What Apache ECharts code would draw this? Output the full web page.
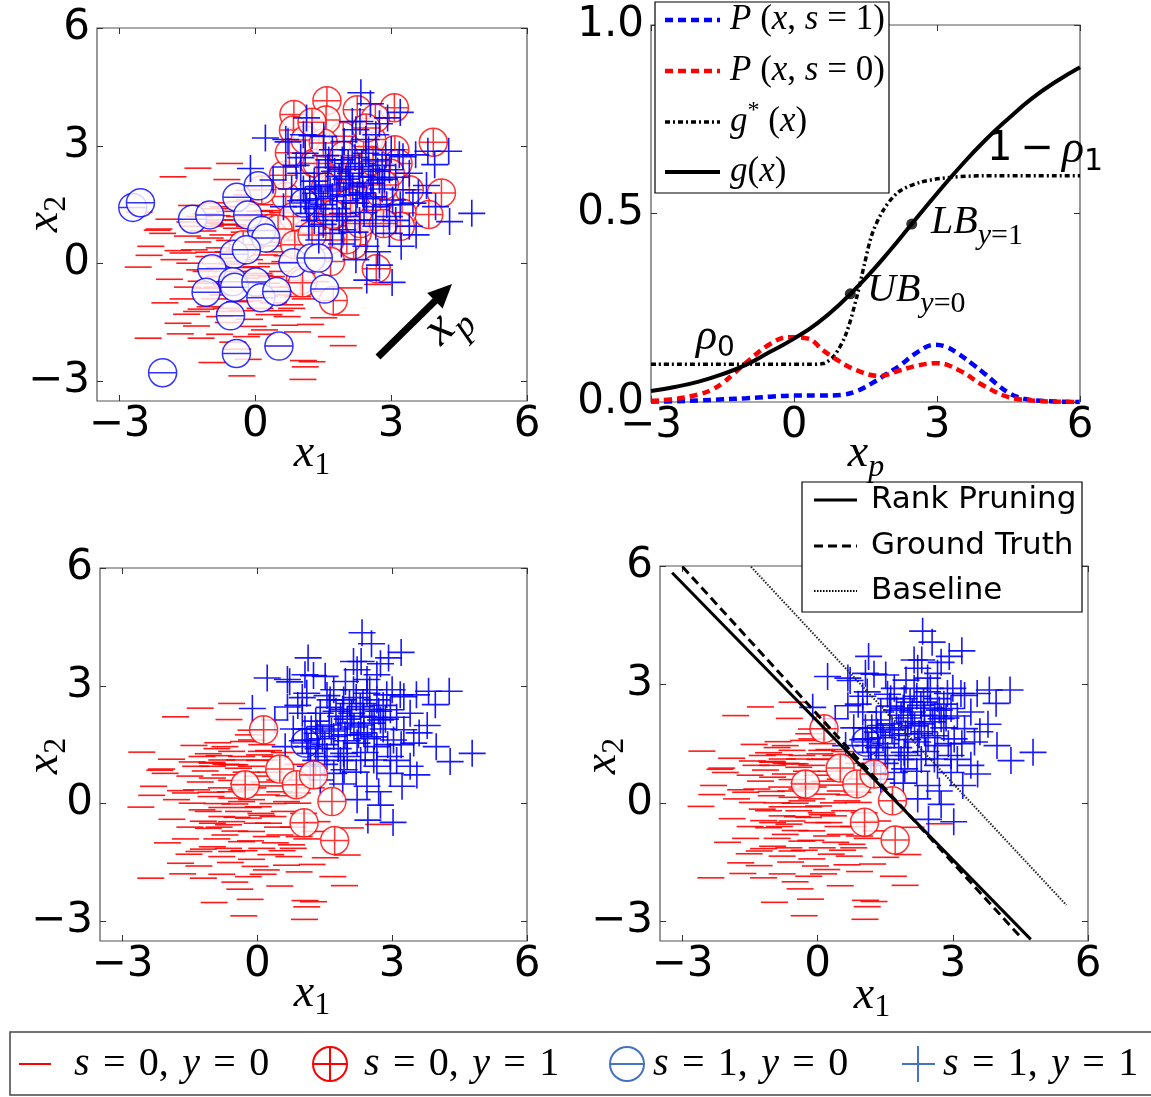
<!DOCTYPE html>
<html><head><meta charset="utf-8">
<script src="https://cdn.jsdelivr.net/npm/echarts@6/dist/echarts.min.js"></script>
<style>html,body{margin:0;padding:0;background:#fff}#c{width:1151px;height:1097px}</style>
</head><body><div id="c"></div>
<script>
// ---------------- DATA ----------------
const scatterTicks = [-3, 0, 3, 6];
// s=0, y=0 (red minus)
const negClean = [[-1.27,2.43],[-0.57,2.55],[-1.82,2.21],[-0.63,2.14],[-0.14,1.87],[-0.2,1.75],[-0.88,1.55],[-1.41,1.48],[-0.31,1.58],[-2.57,1.31],[-1.09,1.27],[-0.85,1.22],[-1.91,1.13],[-1.45,1.06],[-1.0,1.03],[-0.4,1.11],[0.05,1.24],[-2.13,0.88],[-1.0,0.95],[-0.57,0.99],[-0.13,0.95],[0.1,1.5],
[-2.59,-0.09],[-2.17,0.85],[-2.05,0.77],[-2.31,0.44],[-1.27,0.55],[-1.71,0.33],[-2.35,0.21],[-1.6,0.27],[-1.03,0.29],[-1.45,0.01],[-1.23,-0.16],[-0.79,-0.1],[-0.57,0.14],[0.02,-0.08],[-0.42,-0.2],[-0.79,-0.33],[-0.2,-0.37],[-1.09,-0.63],[-0.64,-0.54],[-0.13,-0.71],[0.25,-0.5],[-0.35,-0.97],[-1.2,-1.16],[-0.64,-1.14],[0.1,-1.14],[-1.52,-1.29],[-0.13,-1.42],[0.76,-1.05],[-1.71,-1.52],[-1.3,-1.59],[-0.6,-1.5],[0.65,-1.57],[-1.66,-1.79],[-0.79,-1.8],[-0.2,-1.86],[0.13,-1.8],[0.93,-1.74],[-2.37,-1.9],[-0.39,-2.18],[-0.96,-2.52],[-0.16,-2.44],[-0.3,-2.86],[1.06,-2.47],[1.1,-2.63],[1.05,-2.95],
[2.7,-0.53],[2.07,-0.62],[2.0,-1.31],[1.51,-1.38],[1.22,-1.55],[1.68,-1.86],[1.94,-2.09],[1.25,-2.5],[1.33,-0.46],
[-1.02,1.05],[-0.5,0.99],[0.05,1.1],[-1.16,0.83],[-0.72,0.73],[-1.0,0.65],[-0.57,0.59],[-1.03,0.18],[-0.35,0.35],[-0.13,0.1],[0.2,0.22],[0.35,0.0],[-0.5,-0.01],[-1.09,-0.2],[0.08,-0.25],[0.35,-0.33],[-0.57,-0.46],[-1.0,-0.5],[0.5,-0.8],[0.2,-0.84],[-0.72,-0.8],[-1.3,-1.22],[-0.79,-1.35],[-0.57,-1.22],[0.7,-1.35],[0.2,-1.69],
[-0.13,1.62],[-0.72,1.45],[-0.57,1.33],[-1.23,1.2],[-0.35,1.2],[0.09,1.33],[-0.79,1.11],[-1.37,0.95],[-0.42,0.9],[0.17,1.11],
[0.89,0.27],[0.9,0.01],[1.03,-0.25],[1.29,-0.71],[0.93,-0.84],[0.8,-1.14],
[0.6,1.3],[0.9,1.0],[1.2,0.4],[0.5,0.6],[0.7,0.2],[1.0,0.6],[0.4,1.2],[0.3,0.8],
[-0.3,0.5],[0.0,0.7],[-0.8,0.4],[-0.2,-0.1],[0.5,0.3],[0.6,-0.2],[-0.5,-0.7],[0.0,-0.5],[0.4,-1.0],[-0.9,-0.9],[-0.3,-1.2],[0.3,-1.3],[-1.5,0.7],[-1.8,0.1],[-1.9,-0.4],[-1.5,-0.6],[-2.0,-1.0],[-1.2,-1.9],[-0.5,-2.0],[0.5,-2.1],[0.8,-0.6],[1.1,-0.9],[-0.9,0.0],[-0.1,0.4],[0.3,0.45],
[-0.6,0.3],[-0.25,0.8],[0.15,0.55],[-0.45,-0.35],[0.1,-0.3],[-0.85,-0.6],[0.45,-0.6],[-0.15,-0.95],[-0.7,1.0],[-1.35,0.35],[-1.2,-0.45],[0.65,0.05],[-0.35,0.05],[0.25,1.35],[-1.6,-0.9],[-0.9,1.4],[0.55,-1.2],[-0.05,-1.6],[-1.0,-1.1]];
// s=1, y=1 (blue plus)
const posClean = [[1.13,3.71],[0.22,3.2],[0.67,3.16],[-0.11,2.42],[0.72,3.1],[1.06,3.28],[0.67,2.46],[0.39,2.13],[1.0,2.7],[1.06,1.9],[1.0,1.6],[0.62,1.45],[1.13,1.45],
[2.33,4.35],[2.54,4.07],[3.2,3.85],[2.92,3.71],[2.14,3.62],[2.31,3.62],[2.74,3.56],[1.25,3.26],[1.51,3.24],[1.96,3.11],[2.44,3.16],[2.66,3.28],[2.22,3.41],[3.81,2.86],[4.27,2.86],[3.54,2.77],[3.96,2.52],[3.18,2.77],[3.26,2.72],[2.88,2.77],[3.78,1.99],[3.98,1.45],[4.78,1.28],[4.29,1.07],[3.48,1.54],[3.26,1.88],[2.96,2.39],[2.66,2.64],[2.29,2.47],[1.85,2.22],[1.4,2.3],[1.1,2.81],[1.62,2.64],[2.44,2.81],[2.74,2.13],[2.37,1.8],[2.07,2.05],[1.7,1.71],[1.33,1.79],[1.1,1.62],[3.03,1.62],[2.66,1.45],[2.96,1.2],[2.59,1.11],[1.92,1.28],[1.55,1.2],[1.18,1.28],[2.22,1.54],[1.4,1.96],[1.92,2.64],[2.14,2.9],[2.37,2.22],
[3.55,0.73],[3.22,0.44],[2.22,0.1],[2.74,-0.04],[2.46,-0.42],[3.02,-0.48],[1.7,0.77],[2.44,0.44],[2.96,0.77],[1.93,0.86],[1.18,0.95],[2.66,0.95],[3.4,0.95],
[1.5,1.5],[1.8,1.9],[2.0,1.6],[2.3,2.0],[2.5,2.4],[2.8,1.9],[3.1,2.2],[1.6,2.0],[1.9,2.4],[2.2,2.7],[2.6,1.7],[2.9,1.5],[1.3,2.1],[1.7,2.9],[2.0,1.2],[2.4,1.3],[2.8,2.5],[3.0,2.9],[1.5,1.0],[1.9,0.5],[2.2,0.8],[2.7,0.3],[1.4,0.6],[1.3,1.1],[2.1,2.3],[2.5,2.9],[1.8,1.4],[2.6,2.2],[3.1,1.1],[3.4,2.3],[3.6,1.8],[1.0,2.3],[0.8,1.9],[0.9,2.5],
[1.65,1.85],[1.95,1.75],[2.15,1.95],[2.45,1.65],[1.75,2.35],[2.05,2.55],[2.35,2.55],[2.7,2.35],[1.45,1.65],[1.2,1.9],[2.85,2.15],[1.6,2.45],[2.0,2.15],[1.85,1.1],[2.3,1.1],[1.35,1.4],[2.55,2.05],[2.25,1.75],[1.55,2.75],[3.2,1.5]];
// s=0, y=1 (red circle-plus): kept after pruning / removed by pruning
const flipPosKept = [[0.14,1.88],[-0.27,0.48],[0.5,0.88],[0.87,0.48],[1.25,0.73],[1.66,0.05],[1.04,-0.49],[1.72,-0.94]];
const flipPosRemoved = [[1.58,4.15],[0.85,3.8],[0.84,3.4],[2.25,3.92],[3.07,3.97],[3.93,3.09],[4.11,1.8],[2.67,-0.13],[3.83,1.25],[3.08,2.9],[3.15,2.55],[3.4,1.88],[3.24,1.29],[3.2,0.95],[2.25,0.78],[2.17,0.48],[1.7,0.78],[1.15,0.78],[0.36,0.9],[0.67,1.71],[0.62,2.25],[0.75,2.82],[1.1,3.15],[1.94,3.24],[2.1,1.97],[2.73,1.63],[2.57,3.16],[1.78,2.14],[1.3,2.56],[1.23,1.29],[1.86,1.37],[2.49,1.2],[2.02,0.61],[1.56,3.66],[2.65,3.7],[1.87,2.13],[1.36,2.55],[1.5,3.07],[2.39,2.98],[2.46,1.36],[2.76,1.79],[2.98,2.3],[2.32,1.02],[2.83,1.02],[0.99,-0.43],[1.21,1.45],[0.84,1.2],[1.65,0.6],
[1.95,2.75],[2.3,2.4],[2.6,2.6],[1.55,1.95],[2.1,1.55],[1.7,1.25],[2.85,2.0],[2.45,3.45],[1.25,3.6]];
// s=1, y=0 (blue circle-minus)
const flipNegKept = [[1.07,1.54]];
const flipNegRemoved = [[-2.71,1.43],[-2.54,1.55],[-1.39,1.13],[-1.01,1.24],[-0.41,1.69],[0.06,1.98],[-0.17,1.24],[0.14,0.84],[0.23,0.65],[-0.47,0.24],[-0.2,0.35],[-0.96,-0.13],[-1.09,-0.73],[-0.5,-0.46],[-0.46,-0.6],[0.01,-0.47],[0.12,-0.87],[0.47,-0.71],[-0.55,-1.33],[-0.42,-2.29],[0.52,-2.1],[-2.05,-2.78],[0.83,0.02],[1.23,0.14],[1.39,0.14],[1.53,-0.65]];
// top-right curves
const pS1 = [[-3,0.001],[-2.5,0.002],[-2,0.004],[-1.5,0.007],[-1,0.01],[-0.5,0.014],[0,0.017],[0.5,0.017],[1.0,0.019],[1.3,0.028],[1.64,0.05],[1.95,0.075],[2.2,0.095],[2.6,0.133],[2.95,0.152],[3.2,0.146],[3.45,0.128],[3.75,0.1],[4.0,0.075],[4.25,0.048],[4.47,0.027],[4.7,0.013],[4.94,0.006],[5.5,0.001],[6,0.0]];
const pS0 = [[-3,0.003],[-2.5,0.008],[-2,0.02],[-1.75,0.031],[-1.5,0.05],[-1.25,0.077],[-1,0.105],[-0.5,0.154],[-0.1,0.172],[0.3,0.168],[0.6,0.138],[0.9,0.112],[1.3,0.085],[1.8,0.069],[2.2,0.083],[2.6,0.097],[3.0,0.103],[3.45,0.085],[4.0,0.042],[4.5,0.013],[5.0,0.004],[5.5,0.001],[6,0]];
const gStar = [[-3,0.1],[0.3,0.1],[0.61,0.102],[0.85,0.124],[1.09,0.18],[1.32,0.28],[1.48,0.367],[1.64,0.446],[1.87,0.508],[2.19,0.557],[2.66,0.583],[3.29,0.596],[4,0.6],[6,0.6]];
const gFit = [[-3,0.029],[-2.5,0.04],[-2,0.054],[-1.5,0.074],[-1,0.099],[-0.5,0.133],[0,0.168],[0.5,0.21],[1,0.264],[1.5,0.328],[2,0.4],[2.5,0.477],[3,0.553],[3.5,0.626],[4,0.693],[4.5,0.752],[5,0.806],[5.5,0.85],[6,0.888]];
const boundPoints = [[1.18,0.287],[2.47,0.472]];
// bottom-right decision boundaries
const rankPruningLine = [[-3.23,5.83],[4.73,-3.46]];
const groundTruthLine = [[-3.0,5.98],[4.52,-3.42]];
const baselineLine = [[-1.48,5.98],[5.52,-2.59]];

// ---------------- CHART ----------------
const MATH = 'Liberation Serif';
const SANS = 'DejaVu Sans';
const grids = [
  {left:97, top:28, width:430, height:373},
  {left:651, top:25, width:429, height:377},
  {left:100, top:568, width:427, height:373},
  {left:660, top:566, width:428, height:375}
].map(g => Object.assign(g, {show:true, borderColor:'#555', borderWidth:1.2, backgroundColor:'transparent'}));

const minusFmt = v => String(v).replace('-', '\u2212');
const noLine = {show:false, onZero:false};
const xAxes = [], yAxes = [];
function addAxes(i, tr) {
  const tick = {inside:true, length:6, lineStyle:{color:'#333', width:1}};
  const labX = {fontFamily:SANS, fontSize:42, color:'#000', margin:3};
  const labY = {fontFamily:SANS, fontSize:42, color:'#000', margin:7};
  const xBase = {gridIndex:i, type:'value', min: tr ? -3 : -3.5, max:6, axisLine:noLine, splitLine:{show:false}};
  const yBase = tr ? {gridIndex:i, type:'value', min:0, max:1, interval:0.5, axisLine:noLine, splitLine:{show:false}}
                   : {gridIndex:i, type:'value', min:-3.5, max:6, axisLine:noLine, splitLine:{show:false}};
  if (tr) xBase.interval = 3;
  const cv = tr ? {} : {customValues: scatterTicks};
  xAxes.push(Object.assign({}, xBase, {position:'bottom', axisTick:Object.assign({}, tick, cv), axisLabel:Object.assign({}, labX, cv, {formatter:minusFmt})}));
  yAxes.push(Object.assign({}, yBase, {position:'left', axisTick:Object.assign({}, tick, cv), axisLabel:Object.assign({}, labY, cv, {formatter: tr ? (v => v.toFixed(1)) : minusFmt})}));
}
function addTopRight(i, tr) {
  const tick = {inside:true, length:6, lineStyle:{color:'#333', width:1}};
  const cv = tr ? {} : {customValues: scatterTicks};
  const x = {gridIndex:i, type:'value', min: tr ? -3 : -3.5, max:6, position:'top', axisLine:noLine, splitLine:{show:false}, axisTick:Object.assign({}, tick, cv), axisLabel:Object.assign({show:false}, cv)};
  if (tr) x.interval = 3;
  xAxes.push(x);
  yAxes.push(tr ? {gridIndex:i, type:'value', min:0, max:1, interval:0.5, position:'right', axisLine:noLine, splitLine:{show:false}, axisTick:tick, axisLabel:{show:false}}
               : {gridIndex:i, type:'value', min:-3.5, max:6, position:'right', axisLine:noLine, splitLine:{show:false}, axisTick:Object.assign({}, tick, cv), axisLabel:Object.assign({show:false}, cv)});
}
[0,1,2,3].forEach(i => addAxes(i, i === 1));
[0,1,2,3].forEach(i => addTopRight(i, i === 1));

const SYM_PLUS = 'path://M0,9.4H20V10.6H0Z M9.4,0H10.6V20H9.4Z';
const SYM_CPLUS = 'path://M20,10A10,10,0,1,1,0,10A10,10,0,1,1,20,10Z M0,10H20 M10,0V20';
const SYM_CMINUS = 'path://M20,10A10,10,0,1,1,0,10A10,10,0,1,1,20,10Z M0,10H20';
function sc(gi, data, kind) {
  const s = {type:'scatter', xAxisIndex:gi, yAxisIndex:gi, data, silent:true, animation:false};
  if (kind === 'minus') Object.assign(s, {symbol:'rect', symbolSize:[27,1.6], itemStyle:{color:'#ff0000', opacity:0.9}});
  if (kind === 'plus') Object.assign(s, {symbol:SYM_PLUS, symbolSize:27, itemStyle:{color:'#0000ff', opacity:0.9}});
  if (kind === 'cplus') Object.assign(s, {symbol:SYM_CPLUS, symbolSize:28, itemStyle:{color:'#fff', borderColor:'#ff0000', borderWidth:1.5}});
  if (kind === 'cminus') Object.assign(s, {symbol:SYM_CMINUS, symbolSize:28, itemStyle:{color:'#fff', borderColor:'#0000ff', borderWidth:1.5}});
  return s;
}
const series = [];
// top-left: noisy labels
series.push(sc(0, negClean, 'minus'));
series.push(sc(0, flipPosRemoved.concat(flipPosKept), 'cplus'));
series.push(sc(0, flipNegRemoved.concat(flipNegKept), 'cminus'));
series.push(sc(0, posClean, 'plus'));
// bottom panels: after pruning
[2,3].forEach(gi => {
  series.push(sc(gi, negClean, 'minus'));
  series.push(sc(gi, flipNegKept, 'cminus'));
  series.push(sc(gi, posClean, 'plus'));
  series.push(sc(gi, flipPosKept, 'cplus'));
});
// top-right curves
function ln(gi, data, color, width, type, extra) {
  return Object.assign({type:'line', xAxisIndex:gi, yAxisIndex:gi, data, showSymbol:false, symbol:'none', silent:true, animation:false,
    lineStyle:{color, width, type}}, extra || {});
}
series.push(ln(1, gStar, '#000', 3.5, [5,3,2,3], {smooth:0.3}));
series.push(ln(1, pS1, '#0000ff', 4.5, [8,5], {smooth:0.4}));
series.push(ln(1, pS0, '#ff0000', 4.5, [8,5], {smooth:0.4}));
series.push(ln(1, gFit, '#000', 4, 'solid', {smooth:0.5}));
series.push({type:'scatter', xAxisIndex:1, yAxisIndex:1, data:boundPoints, symbol:'circle', symbolSize:11, itemStyle:{color:'#000'}, silent:true, animation:false, z:5});
// bottom-right boundaries
series.push(ln(3, rankPruningLine, '#000', 3, 'solid', {z:5}));
series.push(ln(3, groundTruthLine, '#000', 3, [9,5], {z:5}));
series.push(ln(3, baselineLine, '#222', 2, [1.5,1.5], {z:5}));

// ---------- graphic helpers ----------
const mctx = document.createElement('canvas').getContext('2d');
function fontOf(p) { return (p[2] ? 'italic ' : '') + p[1] + 'px "' + (p[4] || MATH) + '"'; }
function mtext(parts, x, y, opts) {
  opts = opts || {};
  const ws = parts.map(p => { mctx.font = fontOf(p); return mctx.measureText(p[0]).width; });
  const total = ws.reduce((a,b) => a+b, 0);
  let x0 = opts.left ? 0 : -total/2;
  const children = parts.map((p,i) => {
    const el = {type:'text', z:100, style:{text:p[0], x:x0, y:p[3] || 0, font:fontOf(p), fontSize:p[1], fontFamily:p[4] || MATH, fontStyle:p[2] ? 'italic' : 'normal', fill:'#000', textAlign:'left', textVerticalAlign:'middle', verticalAlign:'middle'}};
    x0 += ws[i];
    return el;
  });
  return {type:'group', x, y, rotation: opts.rot || 0, z:100, children};
}
const G = [];
// axis names
const x1 = () => [['x',46,true],['1',32,false,12]];
const x2 = () => [['x',46,true],['2',32,false,12]];
G.push(mtext(x1(), 312, 454));
G.push(mtext(x2(), 45, 214, {rot:Math.PI/2}));
G.push(mtext([['x',46,true],['p',32,true,14]], 866, 454));
G.push(mtext(x1(), 312, 994));
G.push(mtext(x2(), 45, 756, {rot:Math.PI/2}));
G.push(mtext(x1(), 872, 996));
G.push(mtext(x2(), 603, 756, {rot:Math.PI/2}));
// arrow in top-left
G.push({type:'line', z:100, shape:{x1:378, y1:357, x2:437, y2:299}, style:{stroke:'#000', lineWidth:7}});
G.push({type:'polygon', z:100, shape:{points:[[452,284],[442.6,308.6],[427.2,293.0]]}, style:{fill:'#000'}});
G.push(mtext([['x',50,true],['p',36,true,16]], 446, 323, {rot:Math.PI/4}));
// top-right annotations
G.push(mtext([['1\u2009\u2212\u2009',40,false,0,SANS],['\u03C1',46,true],['1',30,false,12,SANS]], 1045, 150));
G.push(mtext([['LB',40,true],['y',30,true,14],['=1',30,false,14]], 931, 222, {left:true}));
G.push(mtext([['UB',40,true],['y',30,true,14],['=0',30,false,14]], 867, 290, {left:true}));
G.push(mtext([['\u03C1',44,true],['0',28,false,12,SANS]], 696, 337, {left:true}));
// top-right legend
G.push({type:'rect', z:99, shape:{x:655, y:2, width:234, height:191}, style:{fill:'#fff', stroke:'#000', lineWidth:1.2}});
const LF = 35;
const trLeg = [
  {y:20, color:'#0000ff', width:4.5, dash:[8,5], parts:[['P',LF,true],[' (',LF,false],['x',LF,true],[', ',LF,false],['s',LF,true],[' = 1)',LF,false]]},
  {y:71, color:'#ff0000', width:4.5, dash:[8,5], parts:[['P',LF,true],[' (',LF,false],['x',LF,true],[', ',LF,false],['s',LF,true],[' = 0)',LF,false]]},
  {y:122, color:'#000', width:3.5, dash:[5,3,2,3], parts:[['g',LF,true],['*',24,false,-11],[' (',LF,false],['x',LF,true],[')',LF,false]]},
  {y:172, color:'#000', width:4, dash:null, parts:[['g',LF,true],['(',LF,false],['x',LF,true],[')',LF,false]]}
];
trLeg.forEach(e => {
  G.push({type:'line', z:100, shape:{x1:665, y1:e.y, x2:720, y2:e.y}, style:{stroke:e.color, lineWidth:e.width, lineDash:e.dash}});
  G.push(mtext(e.parts, 730, e.y, {left:true}));
});
// bottom-right legend
G.push({type:'rect', z:99, shape:{x:802, y:482, width:280, height:130}, style:{fill:'#fff', stroke:'#000', lineWidth:1.2}});
const brLeg = [
  {y:500, dash:null, w:3, t:'Rank Pruning'},
  {y:546, dash:[9,5], w:3, t:'Ground Truth'},
  {y:591, dash:[1.5,1.5], w:2, t:'Baseline'}
];
brLeg.forEach(e => {
  G.push({type:'line', z:100, shape:{x1:814, y1:e.y, x2:857, y2:e.y}, style:{stroke:'#000', lineWidth:e.w, lineDash:e.dash}});
  G.push({type:'text', z:100, style:{text:e.t, x:871, y:e.y, font:'31px "DejaVu Sans"', fontSize:31, fontFamily:SANS, fill:'#000', textAlign:'left', textVerticalAlign:'middle', verticalAlign:'middle'}});
});
// bottom legend
G.push({type:'rect', z:99, shape:{x:10, y:1032, width:1150, height:63}, style:{fill:'#fff', stroke:'#444', lineWidth:1.5}});
const LB = '#4472c4', LY = 1064;
G.push({type:'line', z:100, shape:{x1:19, y1:LY, x2:51, y2:LY}, style:{stroke:'#ff0000', lineWidth:2}});
G.push({type:'circle', z:100, shape:{cx:330, cy:LY, r:17}, style:{fill:'none', stroke:'#ff0000', lineWidth:2}});
G.push({type:'line', z:100, shape:{x1:313, y1:LY, x2:347, y2:LY}, style:{stroke:'#ff0000', lineWidth:2}});
G.push({type:'line', z:100, shape:{x1:330, y1:LY-17, x2:330, y2:LY+17}, style:{stroke:'#ff0000', lineWidth:2}});
G.push({type:'circle', z:100, shape:{cx:627, cy:LY, r:17}, style:{fill:'none', stroke:LB, lineWidth:2}});
G.push({type:'line', z:100, shape:{x1:610, y1:LY, x2:644, y2:LY}, style:{stroke:LB, lineWidth:2}});
G.push({type:'line', z:100, shape:{x1:902, y1:LY, x2:935, y2:LY}, style:{stroke:LB, lineWidth:2}});
G.push({type:'line', z:100, shape:{x1:918, y1:LY-18, x2:918, y2:LY+18}, style:{stroke:LB, lineWidth:2}});
const SP = '\u2004';
const legTxt = (a, b) => [['s',40,true],[SP + '=' + SP + a + ',' + SP,40,false],['y',40,true],[SP + '=' + SP + b,40,false]];
G.push(mtext(legTxt('0','0'), 74, LY, {left:true}));
G.push(mtext(legTxt('0','1'), 364, LY, {left:true}));
G.push(mtext(legTxt('1','0'), 653, LY, {left:true}));
G.push(mtext(legTxt('1','1'), 943, LY, {left:true}));

const chart = echarts.init(document.getElementById('c'), null, {renderer:'canvas'});
chart.setOption({
  animation:false,
  backgroundColor:'#fff',
  grid:grids,
  xAxis:xAxes,
  yAxis:yAxes,
  series,
  graphic:{elements:G}
});
</script></body></html>
